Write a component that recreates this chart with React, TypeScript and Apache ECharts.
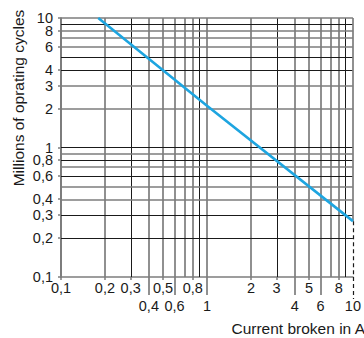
import React, { useEffect, useRef } from "react";
import * as echarts from "echarts";

// Curve: current broken (A) vs millions of operating cycles
const currentA = [0.18, 1, 10];
const cyclesM = [10, 2.1, 0.27];

// Tick labels
const xTicks = [0.1, 0.2, 0.3, 0.4, 0.5, 0.6, 0.8, 1, 2, 3, 4, 5, 6, 8, 10];
const xTickLabels = ["0,1", "0,2", "0,3", "0,4", "0,5", "0,6", "0,8", "1", "2", "3", "4", "5", "6", "8", "10"];
const xSecondRow = [0.4, 0.6, 1, 4, 6, 10];
const yTicks = [0.1, 0.2, 0.3, 0.4, 0.6, 0.8, 1, 2, 3, 4, 6, 8, 10];
const yTickLabels = ["0,1", "0,2", "0,3", "0,4", "0,6", "0,8", "1", "2", "3", "4", "6", "8", "10"];

// Grid lines
const xGrid = [0.2, 0.3, 0.4, 0.5, 0.6, 0.7, 0.8, 0.9, 1, 2, 3, 4, 5, 6, 7, 8, 9];
const yGrid = [0.2, 0.3, 0.4, 0.5, 0.6, 0.7, 0.8, 0.9, 1, 2, 3, 4, 5, 6, 7, 8, 9, 10];
const xDark = [0.3, 0.9, 3, 9];
const yDark = [0.2, 0.3, 0.6, 0.8, 1, 4, 5, 9];

const L = (v: number) => Math.round(Math.log10(v) * 1e9) / 1e9;

const GRAY = "#7d7d7d";
const DARK = "#1a1a1a";
const FONT = "'Liberation Sans', Arial, Helvetica, sans-serif";

export default function App() {
  const ref = useRef<HTMLDivElement>(null);
  useEffect(() => {
    document.body.style.margin = "0";
    if (!ref.current) return;
    const chart = echarts.init(ref.current, null, { renderer: "svg" });

    const lineStyleFor = (v: number, dark: number[]) =>
      dark.includes(v)
        ? { color: DARK, width: 1, type: "solid" as const }
        : { color: GRAY, width: 1.7, type: "solid" as const };

    const endX = currentA[currentA.length - 1];
    const endY = cyclesM[cyclesM.length - 1];

    const markData: any[] = [
      ...xGrid.map((v) => ({ xAxis: L(v), lineStyle: lineStyleFor(v, xDark) })),
      ...yGrid.map((v) => ({ yAxis: L(v), lineStyle: lineStyleFor(v, yDark) })),
      [
        { coord: [L(endX), L(endY)], lineStyle: { color: GRAY, width: 1.7, type: "solid" } },
        { coord: [L(endX), L(10)] },
      ],
      [
        { coord: [L(endX), L(endY)], lineStyle: { color: DARK, width: 1.2, type: [4, 3] } },
        { coord: [L(endX), L(0.1)] },
      ],
    ];

    const xFormatter = (val: number) => {
      const i = xTicks.findIndex((t) => Math.abs(L(t) - val) < 1e-6);
      if (i < 0) return "";
      return xSecondRow.includes(xTicks[i]) ? "\n" + xTickLabels[i] : xTickLabels[i];
    };
    const yFormatter = (val: number) => {
      const i = yTicks.findIndex((t) => Math.abs(L(t) - val) < 1e-6);
      return i < 0 ? "" : yTickLabels[i];
    };

    const baseX = {
      type: "value" as const,
      min: -1,
      max: 1,
      position: "bottom" as const,
      offset: 0,
      splitLine: { show: false },
    };

    const yTop = yTicks[yTicks.length - 1];
    const yRest = yTicks.slice(0, -1);

    const yLabelStyle = {
      show: true,
      formatter: yFormatter,
      showMinLabel: true,
      showMaxLabel: true,
      hideOverlap: false,
      margin: 8,
      fontSize: 14.5,
      lineHeight: 12,
      color: "#1a1a1a",
      fontFamily: FONT,
    };

    chart.setOption({
      animation: false,
      grid: { left: 61, top: 18, right: 9, bottom: 61, containLabel: false },
      xAxis: [
        {
          ...baseX,
          axisLine: { show: true, onZero: false, lineStyle: { color: GRAY, width: 1.7 } },
          axisTick: {
            show: true,
            customValues: xTicks.filter((t) => !xSecondRow.includes(t)).map(L),
            length: 3,
            lineStyle: { color: GRAY, width: 1.5 },
          },
          axisLabel: {
            show: true,
            customValues: xTicks.map(L),
            formatter: xFormatter,
            showMinLabel: true,
            showMaxLabel: true,
            hideOverlap: false,
            margin: 2,
            fontSize: 14.5,
            lineHeight: 18,
            color: "#1a1a1a",
            fontFamily: FONT,
          },
        },
        {
          ...baseX,
          axisLine: { show: false, onZero: false },
          axisLabel: { show: false },
          axisTick: {
            show: true,
            customValues: xSecondRow.filter((t) => t !== 10).map(L),
            length: 18,
            lineStyle: { color: GRAY, width: 1.7 },
          },
        },
        {
          ...baseX,
          axisLine: { show: false, onZero: false },
          axisLabel: { show: false },
          axisTick: {
            show: true,
            customValues: [L(10)],
            length: 22,
            lineStyle: { color: DARK, width: 1.2, type: [4, 3] },
          },
        },
      ],
      yAxis: [
        {
          type: "value",
          min: -1,
          max: 1,
          position: "left",
          offset: 0,
          splitLine: { show: false },
          axisLine: { show: true, onZero: false, lineStyle: { color: "#666", width: 1.7 } },
          axisTick: {
            show: true,
            customValues: yRest.map(L),
            length: 3,
            lineStyle: { color: GRAY, width: 1.5 },
          },
          axisLabel: { ...yLabelStyle, customValues: yRest.map(L) },
        },
        {
          type: "value",
          min: -1,
          max: 1,
          position: "left",
          offset: 0,
          splitLine: { show: false },
          axisLine: { show: false, onZero: false },
          axisTick: {
            show: true,
            customValues: [L(yTop)],
            length: 3,
            lineStyle: { color: GRAY, width: 1.5 },
          },
          axisLabel: { ...yLabelStyle, customValues: [L(yTop)] },
        },
      ],
      graphic: [
        {
          type: "text",
          x: 18,
          y: 98,
          rotation: Math.PI / 2,
          style: {
            text: "Millions of oprating cycles",
            fontSize: 15.5,
            fontFamily: FONT,
            fill: "#1a1a1a",
            align: "center",
            verticalAlign: "middle",
          },
        },
        {
          type: "text",
          x: 365,
          y: 328,
          style: {
            text: "Current broken in A",
            fontSize: 15.5,
            fontFamily: FONT,
            fill: "#1a1a1a",
            align: "right",
            verticalAlign: "middle",
          },
        },
      ],
      series: [
        {
          type: "line",
          data: [],
          silent: true,
          z: 1,
          markLine: {
            silent: true,
            symbol: ["none", "none"],
            label: { show: false },
            lineStyle: { type: "solid" },
            emphasis: { disabled: true },
            data: markData,
          },
        },
        {
          type: "line",
          z: 5,
          symbol: "none",
          showSymbol: false,
          silent: true,
          lineStyle: { color: "#1ea5e0", width: 2.6 },
          data: currentA.map((x, i) => [L(x), L(cyclesM[i])]),
        },
      ],
    });
    return () => chart.dispose();
  }, []);
  return <div ref={ref} style={{ width: 364, height: 338 }} />;
}
